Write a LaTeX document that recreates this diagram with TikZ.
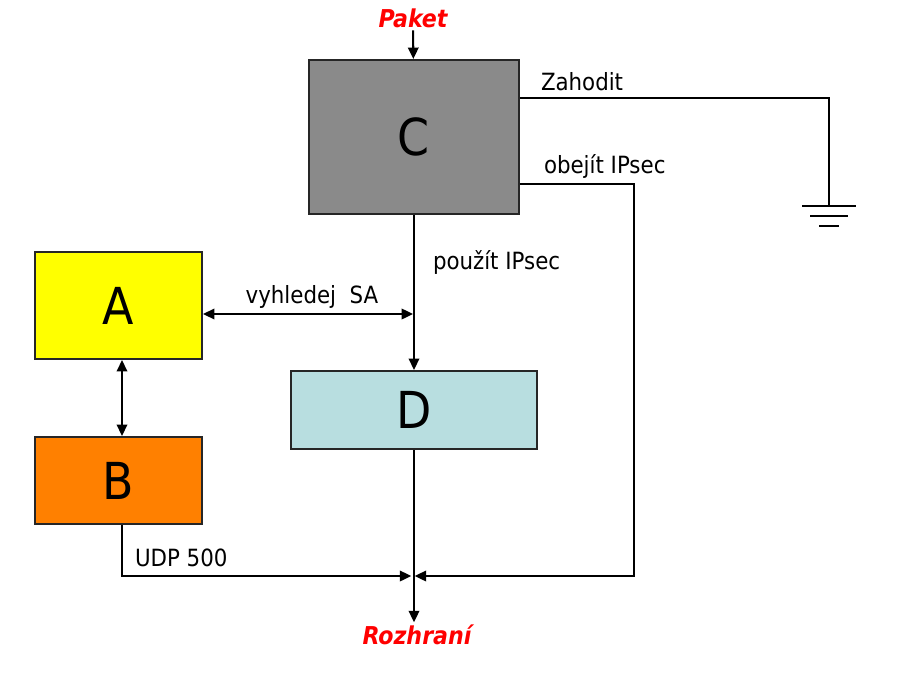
\documentclass[tikz,border=0pt]{standalone}
\usepackage{fontspec}
\setmainfont{DejaVu Sans Condensed}
\usepackage{xcolor}
\usetikzlibrary{arrows.meta}

\definecolor{boxgray}{RGB}{138,138,138}
\definecolor{boxyellow}{RGB}{255,255,0}
\definecolor{boxorange}{RGB}{255,128,0}
\definecolor{boxblue}{RGB}{184,222,224}

\begin{document}
\begin{tikzpicture}[
    x=0.02cm, y=-0.02cm,
    >={Triangle[length=6.5pt,width=6pt]},
    every path/.style={line width=1.15pt},
    box/.style={rectangle, draw=black!85, line width=1.2pt, inner sep=0pt, font=\fontsize{29}{30}\selectfont},
    lbl/.style={anchor=west, inner sep=0pt, font=\fontsize{13.5}{14}\selectfont},
    io/.style={inner sep=1pt, text=red, font=\bfseries\itshape\fontsize{14}{15}\selectfont}
]
\useasboundingbox (0,0) rectangle (920,690);

% boxes
\node [box, fill=boxgray, minimum width=4.2cm, minimum height=3.08cm] (c) at (414,137) {C};
\node [box, fill=boxyellow, minimum width=3.34cm, minimum height=2.14cm] (a) at (118.5,305.5) {A};
\node [box, fill=boxorange, minimum width=3.34cm, minimum height=1.74cm] (b) at (118.5,480.5) {B};
\node [box, fill=boxblue, minimum width=4.92cm, minimum height=1.56cm] (d) at (414,410) {D};

% in and out
\node [io] (paket) at (413,18) {Paket};
\node [io] (rozhrani) at (417,635) {Rozhraní};

\coordinate (drop) at (829,98);
\coordinate (gnd) at (829,206);
\coordinate (bypass) at (634,184);
\coordinate (sa) at (413,314);
\coordinate (merge) at (413,576);
\coordinate (col) at (122,576);

\draw [->] (paket) -- (c);
\draw (c.east |- drop) -- (drop) -- (gnd);
\draw [->] (c.east |- bypass) -- (bypass) -- (bypass |- merge) -- ([xshift=1pt]merge);
\draw [->] (c.south) -- (d.north);
\draw [<->] (a.east |- sa) -- (sa);
\draw [<->] (a.south -| col) -- (b.north -| col);
\draw [->] (b.south -| col) -- (col) -- ([xshift=-1pt]merge);
\draw [->] (d.south) -- (d.south |- rozhrani.north);

% ground
\draw (gnd) ++(-27,0) -- ++(54,0);
\draw (gnd) ++(-19,10) -- ++(38,0);
\draw (gnd) ++(-10,20) -- ++(20,0);

% labels
\node [lbl] (zahodit) at (540,82) {Zahodit};
\node [lbl] (obejit) at (543,166) {obejít IPsec};
\node [lbl] (pouzit) at (432,262) {použít IPsec};
\node [lbl, anchor=center] (vyhledej) at (312,297) {vyhledej\ \ SA};
\node [lbl] (udp) at (134,558) {UDP 500};

\end{tikzpicture}
\end{document}
